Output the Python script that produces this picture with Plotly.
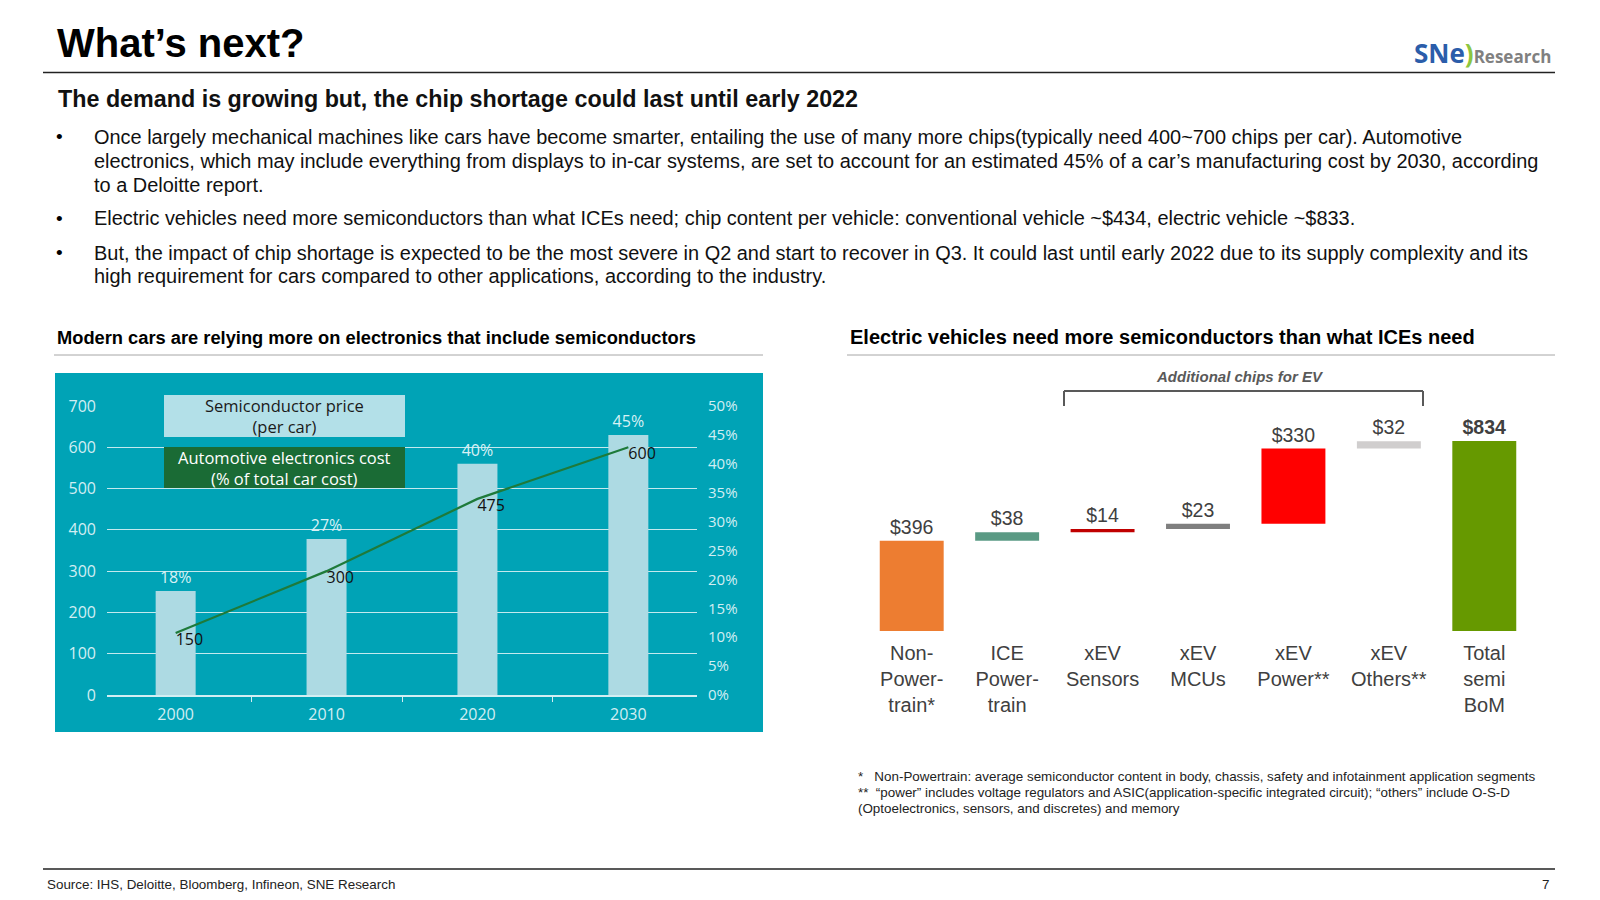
import plotly.graph_objects as go

# ---------------- data ----------------
years = ["2000", "2010", "2020", "2030"]
price_per_car = [150, 300, 475, 600]          # line, left axis ($)
elec_cost_pct = [18, 27, 40, 45]              # bars, right axis (%)

ev_categories = ["Non-<br>Power-<br>train*", "ICE<br>Power-<br>train", "xEV<br>Sensors",
                 "xEV<br>MCUs", "xEV<br>Power**", "xEV<br>Others**", "Total<br>semi<br>BoM"]
ev_values = [396, 38, 14, 23, 330, 32, 834]
ev_is_total = [False, False, False, False, False, False, True]
ev_colors = ["#ED7D31", "#5A9A84", "#C00000", "#7F7F7F", "#FF0000", "#D0CECE", "#669900"]

left_ticks = [0, 100, 200, 300, 400, 500, 600, 700]
right_ticks = [0, 5, 10, 15, 20, 25, 30, 35, 40, 45, 50]

W, H = 1600, 900
OFF = 8  # page body margin
def px(x):
    return (x - OFF) / W
def py(y):
    return 1 - (y - OFF) / H

ARIAL = "Liberation Sans, Arial, sans-serif"
CHART = "Open Sans, Roboto, sans-serif"

# waterfall bases
bases = []
run = 0
for v, t in zip(ev_values, ev_is_total):
    if t:
        bases.append(0)
    else:
        bases.append(run)
        run += v
ev_text = [("<b>$%d</b>" % v) if t else ("$%d" % v) for v, t in zip(ev_values, ev_is_total)]

fig = go.Figure()

# left chart: bars (% axis) and line ($ axis, overlaid so it sits on top)
fig.add_trace(go.Bar(
    x=years, y=elec_cost_pct, xaxis="x", yaxis="y",
    marker=dict(color="#ADDAE3", line=dict(width=0)), width=0.265,
    text=["%d%%" % v for v in elec_cost_pct], textposition="outside", cliponaxis=False,
    constraintext="none",
    textfont=dict(family=CHART, size=16, color="#D8F1F5"), showlegend=False,
))
fig.add_trace(go.Scatter(
    x=years, y=price_per_car, xaxis="x", yaxis="y2", mode="lines+text",
    line=dict(color="#1E7A3A", width=2.2), text=[str(v) for v in price_per_car],
    textposition="bottom right", cliponaxis=False,
    textfont=dict(family=CHART, size=16, color="#111111"), showlegend=False,
))

# right chart: waterfall as floating bars
fig.add_trace(go.Bar(
    x=list(range(len(ev_values))), y=ev_values, base=bases, xaxis="x3", yaxis="y3",
    marker=dict(color=ev_colors, line=dict(width=0)), width=0.67,
    text=ev_text, textposition="outside", cliponaxis=False, constraintext="none",
    textfont=dict(family=ARIAL, size=19.5, color="#404040"), showlegend=False,
))

light = "#D2EEF3"
fig.update_layout(
    width=W, height=H, margin=dict(l=0, r=0, t=0, b=0),
    paper_bgcolor="white", plot_bgcolor="rgba(0,0,0,0)",
    xaxis=dict(domain=[px(107), px(697)], type="category", range=[-0.455, 3.455],
               showline=True, linecolor=light, linewidth=1.5, ticks="outside", tickson="boundaries",
               ticklen=5, tickcolor=light, ticklabelstandoff=4,
               tickfont=dict(family=CHART, size=16, color=light), showgrid=False, fixedrange=True),
    yaxis=dict(domain=[py(695), py(406)], range=[0, 50], side="right", anchor="x",
               tickvals=right_ticks, ticktext=["%d%%" % v for v in right_ticks],
               showgrid=False, zeroline=False, ticklabelstandoff=10, automargin=False,
               tickfont=dict(family=CHART, size=15, color=light)),
    yaxis2=dict(overlaying="y", side="left", range=[0, 700], tickvals=left_ticks, anchor="x",
                showgrid=True, gridcolor="#C4E9EE", gridwidth=1.3, zeroline=False,
                ticklabelstandoff=10, automargin=False,
                tickfont=dict(family=CHART, size=16, color=light), ticks="", showline=False),
    xaxis3=dict(domain=[px(864), px(1532)], anchor="y3", range=[-0.5, 6.5],
                tickvals=list(range(len(ev_values))), ticktext=ev_categories,
                showline=False, ticks="", showgrid=False, zeroline=False, ticklabelstandoff=8,
                tickfont=dict(family=ARIAL, size=20, color="#404040")),
    yaxis3=dict(domain=[py(631), py(400)], anchor="x3",
                range=[0, 834 * (631 - 400) / (631 - 441)], visible=False),
)

shapes = []
annotations = []

def hline(x0, x1, y, color, width):
    shapes.append(dict(type="line", xref="paper", yref="paper", x0=px(x0), x1=px(x1), y0=py(y), y1=py(y),
                       line=dict(color=color, width=width)))

def rect(x0, x1, y0, y1, color, layer):
    shapes.append(dict(type="rect", xref="paper", yref="paper", x0=px(x0), x1=px(x1), y0=py(y1), y1=py(y0),
                       fillcolor=color, line=dict(width=0), layer=layer))

hline(43, 1555, 72.5, "#222222", 1.5)
hline(43, 1555, 869, "#222222", 1.5)
hline(54, 763, 355, "#A6A6A6", 1)
hline(847, 1555, 355, "#A6A6A6", 1)
rect(55, 763, 373, 732, "#00A3B6", "below")
rect(164, 405, 395, 437, "#B3E0E8", "above")
rect(164, 405, 447, 488, "#1A6B35", "above")
# bracket
br = dict(color="#595959", width=2)
hline(1064, 1423, 391, "#595959", 2)
for xb in (1064, 1423):
    shapes.append(dict(type="line", xref="paper", yref="paper", x0=px(xb), x1=px(xb), y0=py(391), y1=py(406), line=br))


def txt(x, y, s, size, color="#000000", bold=False, family=ARIAL, xanchor="left", italic=False):
    if bold:
        s = "<b>" + s + "</b>"
    if italic:
        s = "<i>" + s + "</i>"
    annotations.append(dict(x=px(x), y=py(y), xref="paper", yref="paper", text=s, showarrow=False,
                            xanchor=xanchor, yanchor="middle", align="left",
                            font=dict(family=family, size=size, color=color)))


txt(55, 43, "What’s next?", 40, bold=True)
txt(56, 99, "The demand is growing but, the chip shortage could last until early 2022", 23.3, bold=True, color="#111111")

# logo
annotations.append(dict(x=px(1553), y=py(53), xref="paper", yref="paper", showarrow=False,
                        xanchor="right", yanchor="middle",
                        text="<b><span style='color:#2B5DAA;font-size:26px'>SNe</span></b>"
                             "<b><span style='color:#8DC63F;font-size:26px'>)</span></b>"
                             "<b><span style='color:#808080'>Research</span></b>",
                        font=dict(family="Open Sans, sans-serif", size=17, color="#808080")))

body = [
    (137, True, "Once largely mechanical machines like cars have become smarter, entailing the use of many more chips(typically need 400~700 chips per car). Automotive"),
    (161, False, "electronics, which may include everything from displays to in-car systems, are set to account for an estimated 45% of a car’s manufacturing cost by 2030, according"),
    (185, False, "to a Deloitte report."),
    (218, True, "Electric vehicles need more semiconductors than what ICEs need; chip content per vehicle: conventional vehicle ~$434, electric vehicle ~$833."),
    (253, True, "But, the impact of chip shortage is expected to be the most severe in Q2 and start to recover in Q3. It could last until early 2022 due to its supply complexity and its"),
    (276, False, "high requirement for cars compared to other applications, according to the industry."),
]
for y, bullet, s in body:
    if bullet:
        txt(54, y, "•", 19)
    txt(92, y, s, 19.95, color="#111111")

txt(55, 337, "Modern cars are relying more on electronics that include semiconductors", 18.3, bold=True)
txt(848, 337, "Electric vehicles need more semiconductors than what ICEs need", 20, bold=True)

# legend box texts
annotations.append(dict(x=px(284.5), y=py(416), xref="paper", yref="paper", showarrow=False,
                        text="Semiconductor price<br>(per car)", align="center", xanchor="center", yanchor="middle",
                        font=dict(family=CHART, size=16.5, color="#1A1A1A")))
annotations.append(dict(x=px(284.5), y=py(467.5), xref="paper", yref="paper", showarrow=False,
                        text="Automotive electronics cost<br>(% of total car cost)", align="center",
                        xanchor="center", yanchor="middle",
                        font=dict(family=CHART, size=16.5, color="#FFFFFF")))

txt(1240, 377, "Additional chips for EV", 15, color="#595959", bold=True, italic=True, xanchor="center")

FN = 13.4
txt(856, 776, "*\u00a0\u00a0\u00a0Non-Powertrain: average semiconductor content in body, chassis, safety and infotainment application segments", FN, color="#222222")
txt(856, 792, "**\u00a0\u00a0“power” includes voltage regulators and ASIC(application-specific integrated circuit); “others” include O-S-D", FN, color="#222222")
txt(856, 808, "(Optoelectronics, sensors, and discretes) and memory", FN, color="#222222")

txt(45, 884, "Source: IHS, Deloitte, Bloomberg, Infineon, SNE Research", 13.4, color="#222222")
txt(1540, 884, "7", 13.4, color="#222222")

fig.update_layout(shapes=shapes, annotations=annotations)
fig.write_html("out.html")
